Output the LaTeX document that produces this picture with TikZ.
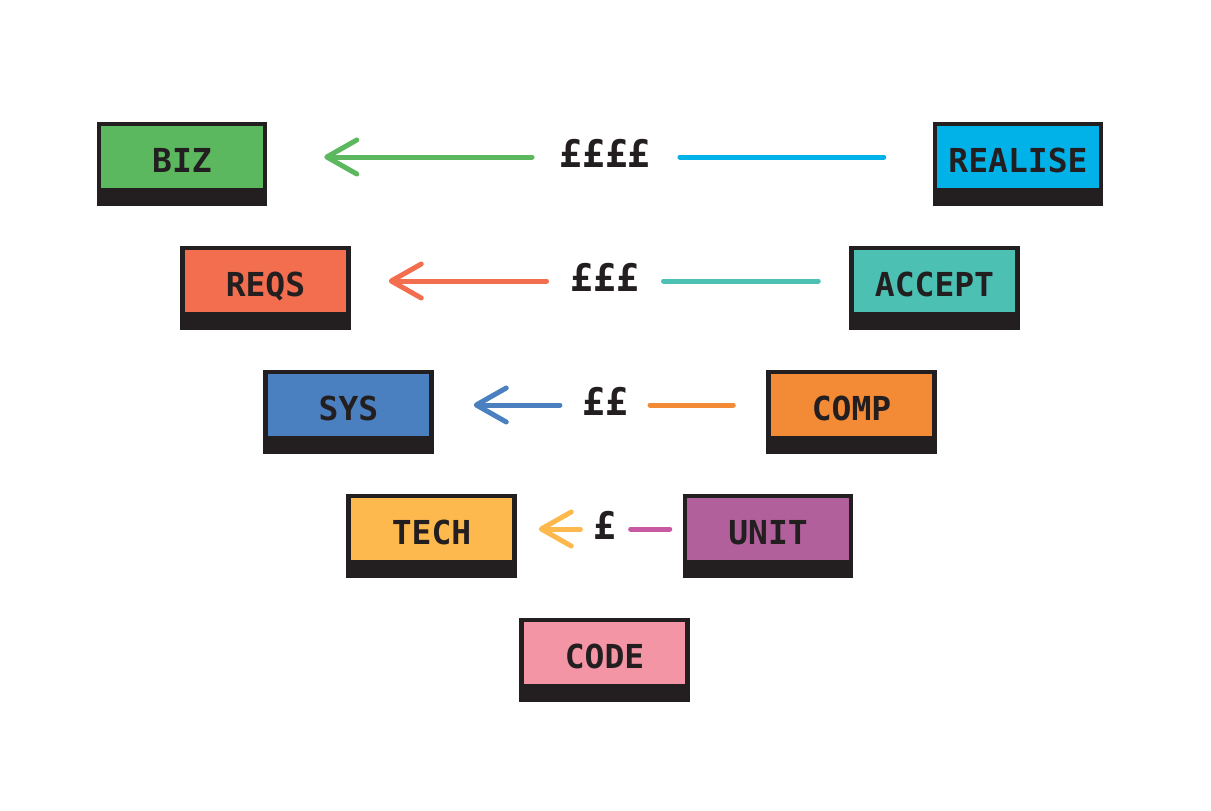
\documentclass[tikz,border=0pt]{standalone}
\usepackage{fontspec}
\usetikzlibrary{arrows.meta}
\newfontfamily\stagefont{DejaVu Sans Mono}
\definecolor{ink}{HTML}{231F20}
\definecolor{bizgreen}{HTML}{5CB85F}
\definecolor{realiseblue}{HTML}{00B2E8}
\definecolor{reqsred}{HTML}{F26E4F}
\definecolor{acceptteal}{HTML}{4DC0B4}
\definecolor{sysblue}{HTML}{4A80C0}
\definecolor{comporange}{HTML}{F38A35}
\definecolor{techyellow}{HTML}{FDB94D}
\definecolor{unitpurple}{HTML}{B2609C}
\definecolor{unitline}{HTML}{C75AA3}
\definecolor{codepink}{HTML}{F495A6}
\begin{document}
\begin{tikzpicture}[x=1pt,y=-1pt,
	stage/.style={rectangle,draw=ink,fill=#1,line width=4.5,minimum width=166,minimum height=66,inner sep=0,
		text height=31,text depth=0,text=ink,font=\stagefont\bfseries\fontsize{33}{40}\selectfont},
	cost/.style={inner sep=0,text=ink,font=\stagefont\bfseries\fontsize{38}{44}\selectfont},
	flow/.style={draw=#1,line width=5,line cap=round,-{Straight Barb[length=30pt,width=34pt,round]}},
	link/.style={draw=#1,line width=5,line cap=round}
	]
	\useasboundingbox (0,0) rectangle (1211,811);
	\def\rowgap{124}
	
	\node[stage=bizgreen] (biz) at (182,157) {BIZ};
	\node[stage=realiseblue] (realise) at (1018,157) {REALISE};
	\node[stage=reqsred] (reqs) at (265.5,157+\rowgap) {REQS};
	\node[stage=acceptteal] (accept) at (934.5,157+\rowgap) {ACCEPT};
	\node[stage=sysblue] (sys) at (348.5,157+2*\rowgap) {SYS};
	\node[stage=comporange] (comp) at (851.5,157+2*\rowgap) {COMP};
	\node[stage=techyellow] (tech) at (431.5,157+3*\rowgap) {TECH};
	\node[stage=unitpurple] (unit) at (768,157+3*\rowgap) {UNIT};
	\node[stage=codepink] (code) at (604.5,157+4*\rowgap) {CODE};
	
	% black foot under every box
	\foreach \s in {biz,realise,reqs,accept,sys,comp,tech,unit,code}
	\fill[ink] (\s.south west) ++(0,-1) rectangle ++(170.5,15);
	
	\node[cost] (m1) at (605,153) {££££};
	\node[cost] (m2) at (605,153+\rowgap) {£££};
	\node[cost] (m3) at (605,153+2*\rowgap) {££};
	\node[cost] (m4) at (605,153+3*\rowgap) {£};
	
	\draw[link=realiseblue,shorten <=49,shorten >=29] (realise.west) -- (m1.east |- realise);
	\draw[flow=bizgreen,shorten <=27,shorten >=57] (m1.west |- biz) -- (biz.east);
	\draw[link=acceptteal,shorten <=31,shorten >=24] (accept.west) -- (m2.east |- accept);
	\draw[flow=reqsred,shorten <=24,shorten >=38] (m2.west |- reqs) -- (reqs.east);
	\draw[link=comporange,shorten <=33,shorten >=22] (comp.west) -- (m3.east |- comp);
	\draw[flow=sysblue,shorten <=22,shorten >=40] (m3.west |- sys) -- (sys.east);
	\draw[link=unitline,shorten <=13,shorten >=14] (unit.west) -- (m4.east |- unit);
	\draw[flow=techyellow,shorten <=13,shorten >=22] (m4.west |- tech) -- (tech.east);
\end{tikzpicture}
\end{document}
